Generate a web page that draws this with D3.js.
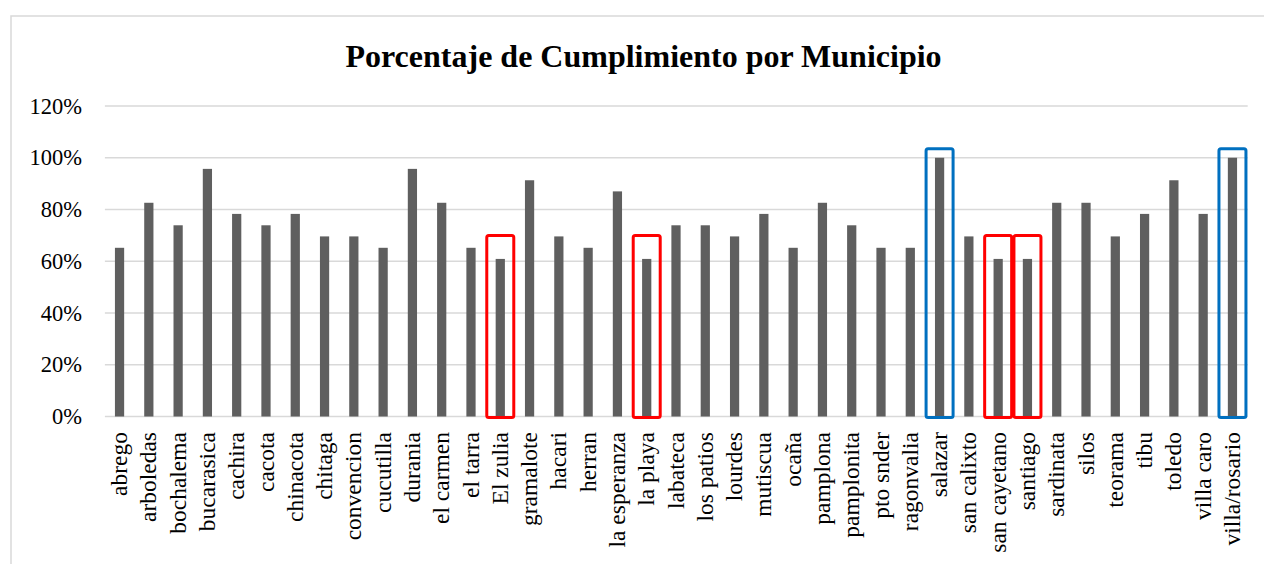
<!DOCTYPE html>
<html>
<head>
<meta charset="utf-8">
<script src="https://cdn.jsdelivr.net/npm/d3@7"></script>
<style>
  body { margin: 0; background: #fff; }
  svg text { font-family: "Liberation Serif", "Times New Roman", serif !important; fill: #000; }
</style>
</head>
<body>
<svg id="Chartsvg" width="1264" height="564"></svg>
<script>
// municipios y porcentaje de cumplimiento
var municipios = ["abrego", "arboledas", "bochalema", "bucarasica", "cachira", "cacota",
    "chinacota", "chitaga", "convencion", "cucutilla", "durania", "el carmen", "el tarra",
    "El zulia", "gramalote", "hacari", "herran", "la esperanza", "la playa", "labateca",
    "los patios", "lourdes", "mutiscua", "ocaña", "pamplona", "pamplonita", "pto snder",
    "ragonvalia", "salazar", "san calixto", "san cayetano", "santiago", "sardinata", "silos",
    "teorama", "tibu", "toledo", "villa caro", "villa/rosario"];
var cumplimiento = [0.652, 0.826, 0.739, 0.957, 0.783, 0.739,
    0.783, 0.696, 0.696, 0.652, 0.957, 0.826, 0.652,
    0.609, 0.913, 0.696, 0.652, 0.870, 0.609, 0.739,
    0.739, 0.696, 0.783, 0.652, 0.826, 0.739, 0.652,
    0.652, 1.000, 0.696, 0.609, 0.609, 0.826, 0.826,
    0.696, 0.783, 0.913, 0.783, 1.000];
var yTicks = [0, 0.2, 0.4, 0.6, 0.8, 1.0, 1.2];
var marcadosRojo = ["El zulia", "la playa", "san cayetano", "santiago"];
var marcadosAzul = ["salazar", "villa/rosario"];

var titulo = "Porcentaje de Cumplimiento por Municipio";

var svg = d3.select("#Chartsvg"),
    width = +svg.attr("width"),
    height = +svg.attr("height");

var data = municipios.map(function(m, i) { return {name: m, value: cumplimiento[i]}; });

// chart frame
svg.append("rect")
    .attr("x", 11).attr("y", 16)
    .attr("width", width + 50).attr("height", height + 50)
    .attr("fill", "none")
    .attr("stroke", "#d9d9d9")
    .attr("stroke-width", 1.5);

svg.append("text")
    .attr("x", 643.5).attr("y", 67)
    .attr("text-anchor", "middle")
    .style("font-size", "32px")
    .style("font-weight", "bold")
    .text(titulo);

var x = d3.scaleBand()
    .domain(municipios)
    .range([104.9, 1247.1])
    .paddingInner(0.685)
    .paddingOuter(0.3425);

var y = d3.scaleLinear()
    .domain([0, 1.2])
    .range([416.5, 106]);

// gridlines
svg.append("g").selectAll("line")
    .data(yTicks)
    .enter().append("line")
    .attr("x1", 104.9).attr("x2", 1247.7)
    .attr("y1", function(d) { return y(d); })
    .attr("y2", function(d) { return y(d); })
    .attr("stroke", "#d9d9d9")
    .attr("stroke-width", 1.5);

// y axis labels
var yAxis = d3.axisLeft(y).tickValues(yTicks).tickFormat(d3.format(".0%")).tickSize(0).tickPadding(0);
var gy = svg.append("g").attr("transform", "translate(82,0)").call(yAxis)
    .attr("font-family", null).attr("font-size", null);
gy.select(".domain").remove();
gy.selectAll("text")
    .style("font-size", "22.5px")
    .attr("fill", "#000");

// bars
svg.append("g").selectAll("rect")
    .data(data)
    .enter().append("rect")
    .attr("x", function(d) { return x(d.name); })
    .attr("width", x.bandwidth())
    .attr("y", function(d) { return y(d.value); })
    .attr("height", function(d) { return y(0) - y(d.value); })
    .attr("fill", "#5f5f5f");

// category labels
var xAxis = d3.axisBottom(x).tickSize(0).tickPadding(0);
var gx = svg.append("g").attr("transform", "translate(0," + y(0) + ")").call(xAxis)
    .attr("font-family", null).attr("font-size", null);
gx.select(".domain").remove();
gx.selectAll("text")
    .style("font-size", "23.5px")
    .attr("fill", "#000")
    .attr("text-anchor", "end")
    .attr("transform", "rotate(-90)")
    .attr("x", -15.5)
    .attr("y", 0)
    .attr("dy", "0.32em");

// highlight boxes
function caja(nombres, tope, color) {
    svg.append("g").selectAll("rect")
        .data(nombres)
        .enter().append("rect")
        .attr("x", function(d) { return x(d) + x.bandwidth() / 2 - 13.5; })
        .attr("width", 27)
        .attr("y", y(tope))
        .attr("height", y(0) + 1 - y(tope))
        .attr("rx", 2)
        .attr("fill", "none")
        .attr("stroke", color)
        .attr("stroke-width", 3);
}
caja(marcadosRojo, 0.70, "#ff0000");
caja(marcadosAzul, 1.035, "#0070c0");
</script>
</body>
</html>
